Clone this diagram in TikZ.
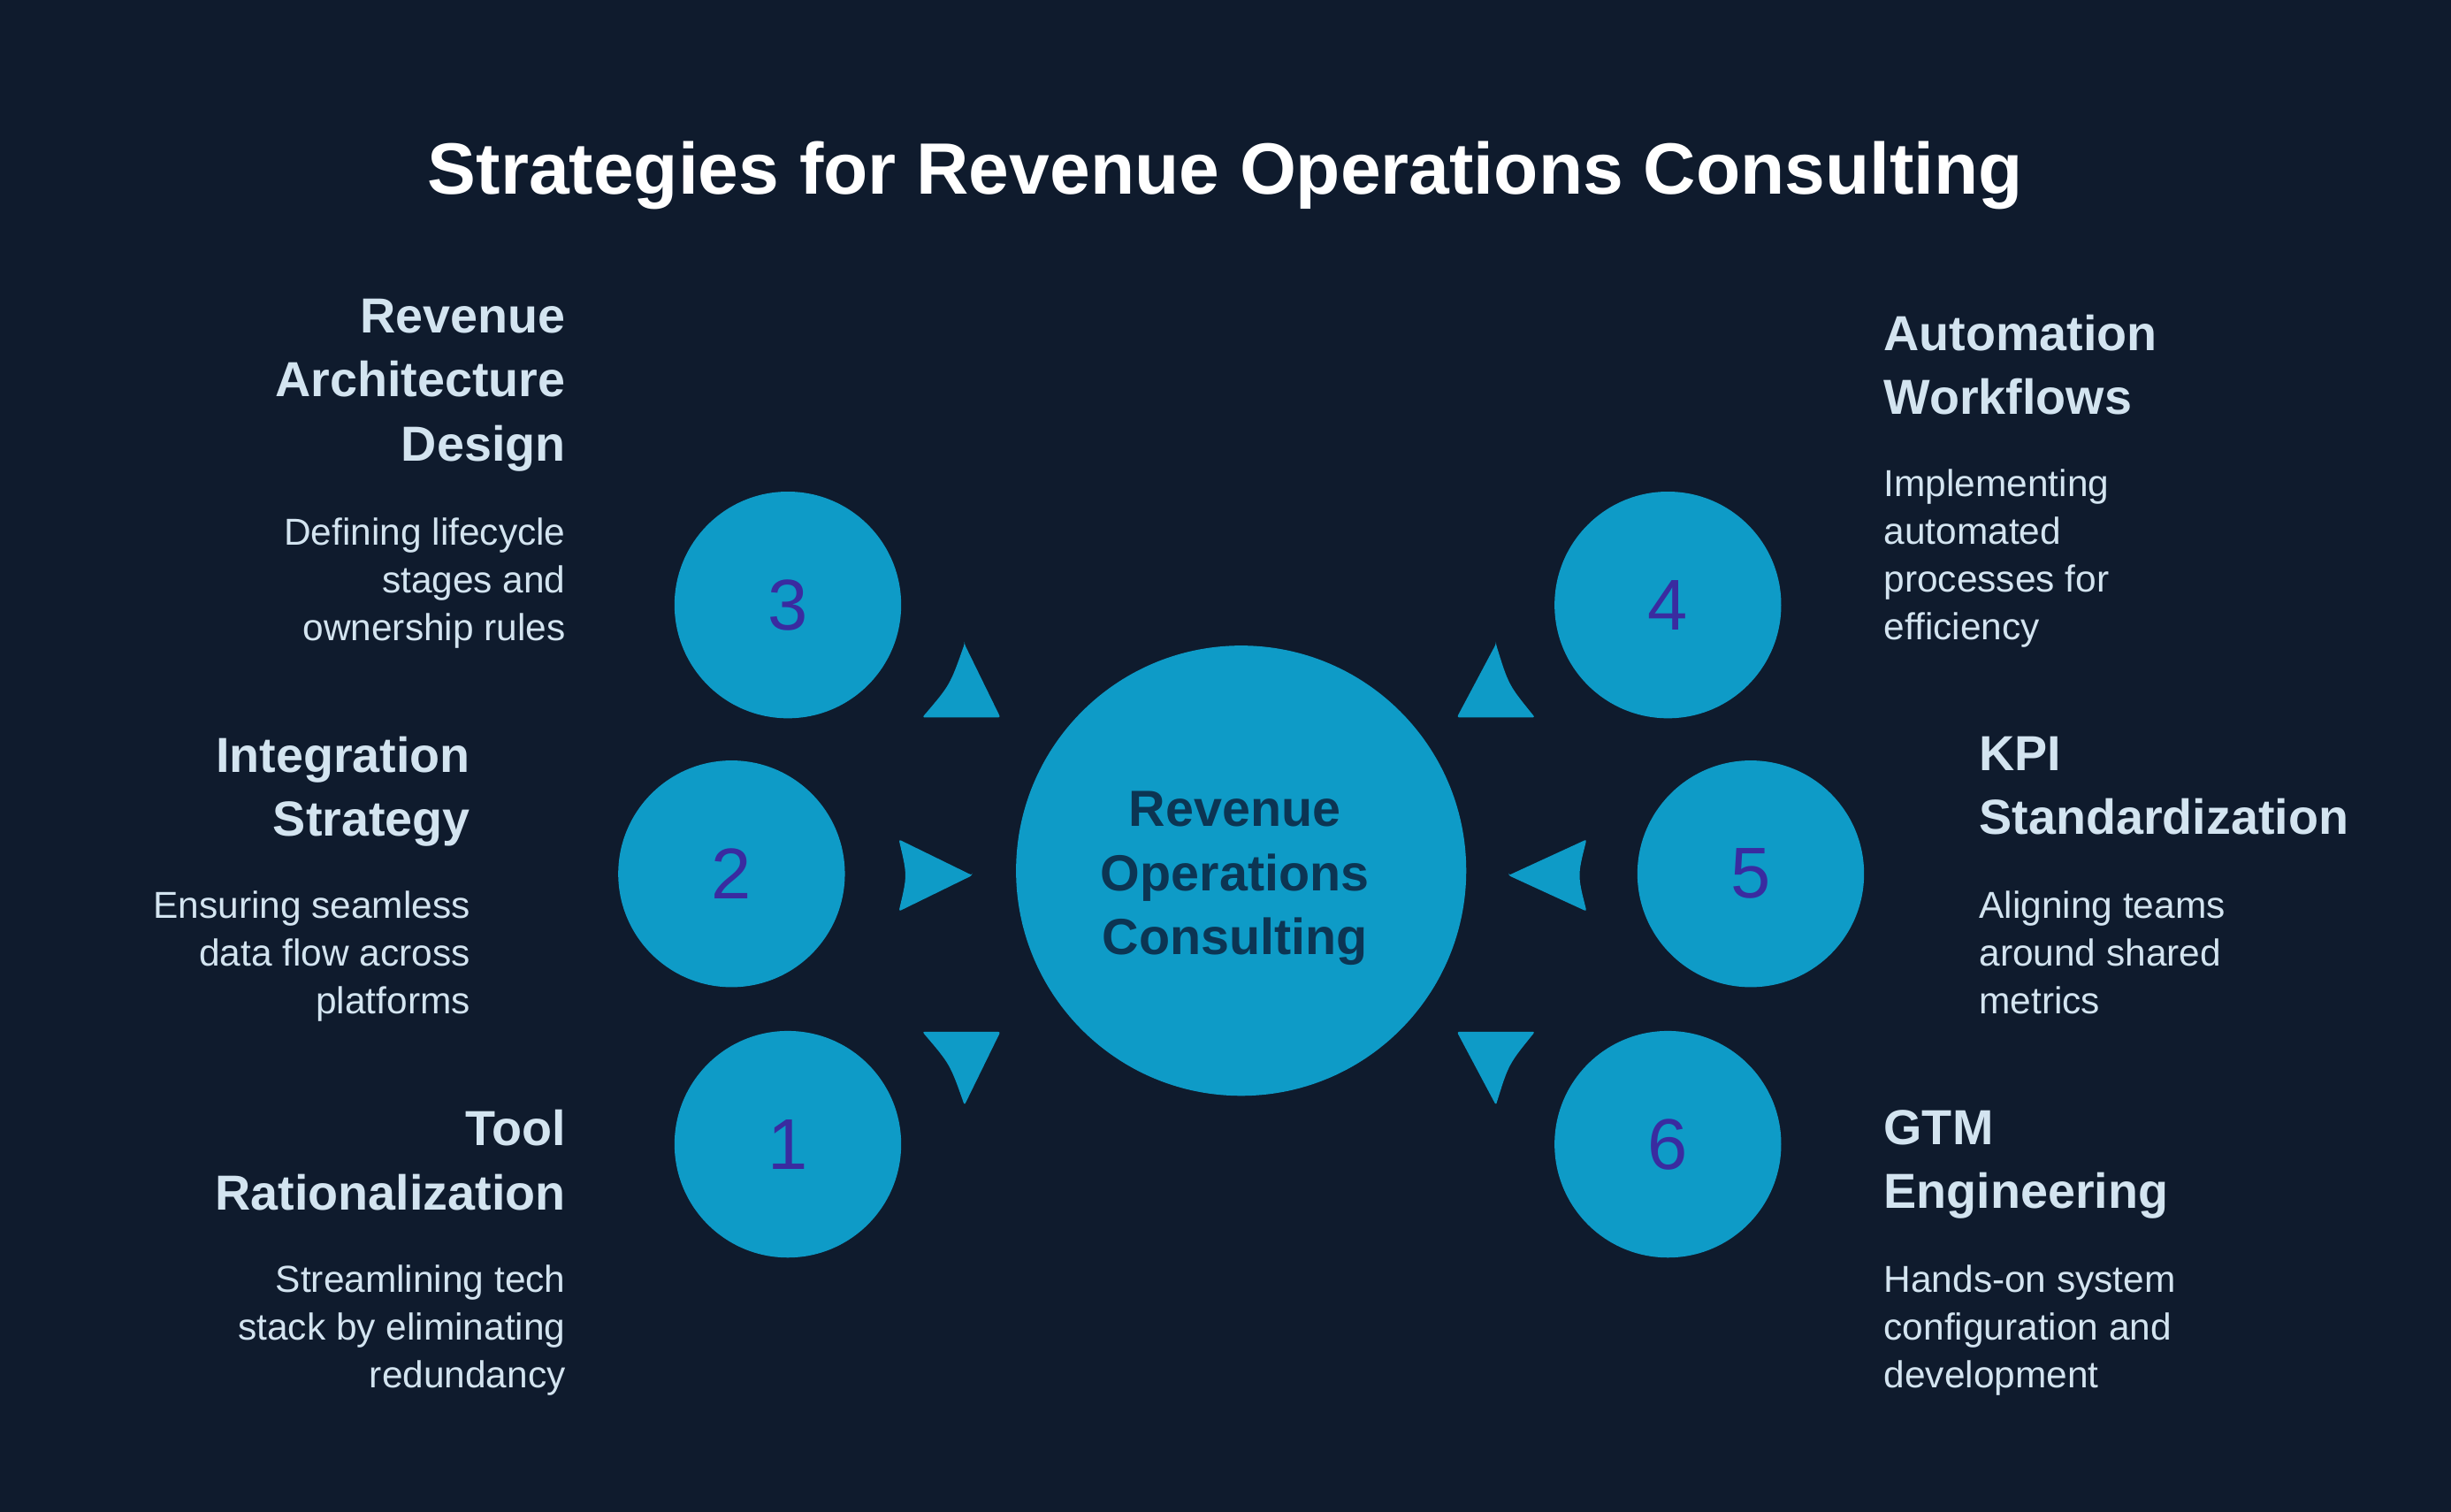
\documentclass[tikz,border=0pt]{standalone}
\usepackage{fontspec}
\setmainfont{Liberation Sans}
\usetikzlibrary{calc}
\definecolor{bg}{HTML}{0F1B2D}
\definecolor{cyanc}{HTML}{0E9BC7}
\definecolor{numc}{HTML}{3A2BA0}
\definecolor{ctext}{HTML}{0C3553}
\definecolor{lt}{HTML}{D3E4F0}
\tikzset{
  bigc/.style={circle,fill=cyanc,minimum size=288pt,inner sep=0pt,font=\fontsize{32.5}{41}\selectfont\bfseries,text=ctext,align=center},
  smallc/.style={circle,fill=cyanc,minimum size=145pt,inner sep=0pt,font=\fontsize{46}{50}\selectfont,text=numc},
  head/.style={font=\fontsize{31.5}{41}\selectfont\bfseries,text=lt,inner sep=0pt},
  desc/.style={font=\fontsize{24}{30.5}\selectfont,text=lt,inner sep=0pt},
}
\newcommand{\tri}[9]{%
  \coordinate (ta) at (#1,#2); \coordinate (tb) at (#3,#4); \coordinate (tc) at (#5,#6);
  \coordinate (tg) at ($1/3*(ta)+1/3*(tb)+1/3*(tc)$);
  \fill[cyanc,rounded corners=1.5pt] (ta) .. controls ($(ta)!0.5!(tb)!#7!(tg)$) .. (tb)
    .. controls ($(tb)!0.5!(tc)!#8!(tg)$) .. (tc)
    .. controls ($(tc)!0.5!(ta)!#9!(tg)$) .. (ta) -- cycle;}
\begin{document}
\begin{tikzpicture}[x=1pt,y=-1pt]
\fill[bg] (0,0) rectangle (1568,967);
\useasboundingbox (0,0) rectangle (1568,967);
\node[font=\fontsize{46.5}{50}\selectfont\bfseries,text=white] (title) at (784,112) {Strategies for Revenue Operations Consulting};
\node[bigc] (center) at (794,557) {};
\node[font=\fontsize{32.5}{41}\selectfont\bfseries,text=ctext,align=center] (ctxt) at (790,562) {Revenue\\Operations\\Consulting};
\node[smallc] (c3) at (504,387) {3};
\node[smallc] (c4) at (1067,387) {4};
\node[smallc] (c2) at (468,559) {2};
\node[smallc] (c5) at (1120,559) {5};
\node[smallc] (c1) at (504,732) {1};
\node[smallc] (c6) at (1067,732) {6};
\tri{617}{412}{640}{459}{590}{459}{0}{0}{0.35}
\tri{622}{560}{575}{583}{575}{537}{0}{0.35}{0}
\tri{617}{707}{590}{660}{640}{660}{0.35}{0}{0}
\tri{957}{412}{982}{459}{932}{459}{0.35}{0}{0}
\tri{965}{560}{1015}{537}{1015}{583}{0}{0.35}{0}
\tri{957}{707}{932}{660}{982}{660}{0}{0}{0.35}
% left texts
\node[head,align=right,anchor=north east] (h3) at (362,191) {Revenue\\Architecture\\Design};
\node[desc,align=right,anchor=north east] (d3) at (362,331) {Defining lifecycle\\stages and\\ownership rules};
\node[head,align=right,anchor=north east] (h2) at (301,471) {Integration\\Strategy};
\node[desc,align=right,anchor=north east] (d2) at (301,570) {Ensuring seamless\\data flow across\\platforms};
\node[head,align=right,anchor=north east] (h1) at (362,710) {Tool\\Rationalization};
\node[desc,align=right,anchor=north east] (d1) at (362,809) {Streamlining tech\\stack by eliminating\\redundancy};
% right texts
\node[head,align=left,anchor=north west] (h4) at (1205,201) {Automation\\Workflows};
\node[desc,align=left,anchor=north west] (d4) at (1205,300) {Implementing\\automated\\processes for\\efficiency};
\node[head,align=left,anchor=north west] (h5) at (1266,471) {KPI\\Standardization};
\node[desc,align=left,anchor=north west] (d5) at (1266,570) {Aligning teams\\around shared\\metrics};
\node[head,align=left,anchor=north west] (h6) at (1205,710) {GTM\\Engineering};
\node[desc,align=left,anchor=north west] (d6) at (1205,809) {Hands-on system\\configuration and\\development};
\end{tikzpicture}
\end{document}
